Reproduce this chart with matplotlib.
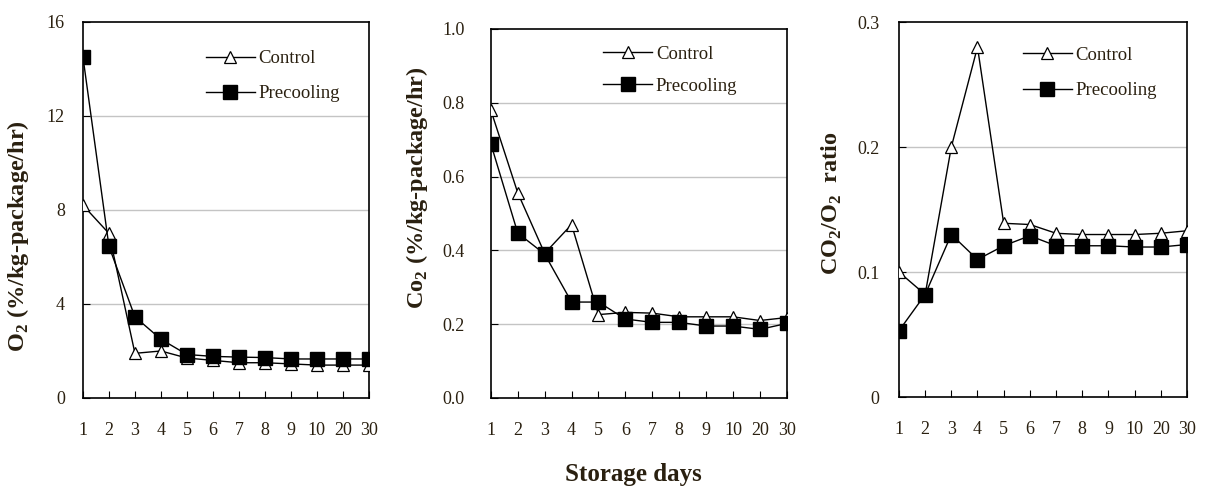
import numpy as np
import matplotlib
matplotlib.use("Agg")
import matplotlib.pyplot as plt

plt.rcParams['font.family'] = ['Liberation Serif', 'DejaVu Serif']
plt.rcParams['mathtext.fontset'] = 'custom'
plt.rcParams['mathtext.rm'] = 'Liberation Serif'
plt.rcParams['mathtext.bf'] = 'Liberation Serif:bold'

# dni przechowywania (kategorie na osi x)
days = ['1', '2', '3', '4', '5', '6', '7', '8', '9', '10', '20', '30']

# O2
o2_control = [8.2, 7.0, 1.9, 2.0, 1.7, 1.6, 1.5, 1.5, 1.45, 1.4, 1.4, 1.4]
o2_precool = [14.5, 6.45, 3.45, 2.5, 1.85, 1.77, 1.74, 1.72, 1.66, 1.66, 1.66, 1.66]

# CO2
co2_control = [0.78, 0.556, 0.392, 0.47, 0.226, 0.232, 0.23, 0.22, 0.22, 0.22, 0.21, 0.218]
co2_precool = [0.689, 0.447, 0.39, 0.26, 0.26, 0.214, 0.205, 0.205, 0.195, 0.195, 0.186, 0.202]

# CO2/O2
ratio_control = [0.10, 0.082, 0.20, 0.28, 0.139, 0.138, 0.131, 0.13, 0.13, 0.13, 0.131, 0.133]
ratio_precool = [0.053, 0.082, 0.13, 0.11, 0.121, 0.129, 0.121, 0.121, 0.121, 0.12, 0.12, 0.122]

txt_col = '#2a2010'
x = np.arange(len(days))

fig = plt.figure(figsize=(12.06, 4.93), dpi=100)

panele = [
    # dane, pozycja osi, yticks, etykiety, pad, etykieta osi, pozycja etykiety, legenda, odstep
    (o2_control, o2_precool, [0.0688, 0.1927, 0.237, 0.763], [0, 4, 8, 12, 16],
     ['0', '4', '8', '12', '16'], 13,
     r'O$_\mathbf{2}$ (%/kg-package/hr)', (-0.227, 0.43), (0.43, 0.925), 0.95),
    (co2_control, co2_precool, [0.407, 0.1927, 0.2454, 0.7485], [0.0, 0.2, 0.4, 0.6, 0.8, 1.0],
     ['0.0', '0.2', '0.4', '0.6', '0.8', '1.0'], 19,
     r'Co$_\mathbf{2}$ (%/kg-package/hr)', (-0.25, 0.57), (0.38, 0.955), 0.8),
    (ratio_control, ratio_precool, [0.7454, 0.1947, 0.2388, 0.7606], [0, 0.1, 0.2, 0.3],
     ['0', '0.1', '0.2', '0.3'], 14,
     r'CO$_\mathbf{2}$/O$_\mathbf{2}$  ratio', (-0.233, 0.516), (0.43, 0.935), 1.0),
]

for ctrl, pre, pos, yt, ytl, ypad, ylab, labpos, legpos, odstep in panele:
    ax = fig.add_axes(pos)
    ax.plot(x, ctrl, '-', color='black', lw=1.0, marker='^', ms=8,
            mfc='white', mec='black', mew=0.9, label='Control', zorder=3)
    ax.plot(x, pre, '-', color='black', lw=1.0, marker='s', ms=10.5,
            mfc='black', mec='black', label='Precooling', zorder=4)
    ax.set_xlim(0, 11)
    ax.set_ylim(yt[0], yt[-1])
    ax.set_xticks(x)
    ax.set_xticklabels(days)
    ax.set_yticks(yt)
    ax.set_yticklabels(ytl)
    for v in yt[1:-1]:
        ax.axhline(v, color='#c4c4c4', lw=1.0, zorder=1)
    ax.tick_params(axis='x', direction='in', length=5, pad=17, labelsize=13,
                   labelcolor=txt_col)
    ax.tick_params(axis='y', direction='in', length=5, pad=ypad, labelsize=13,
                   labelcolor=txt_col)
    for s in ax.spines.values():
        s.set_linewidth(1.2)
    ax.set_ylabel(ylab, fontsize=17.5, fontweight='bold', color=txt_col, va='center')
    ax.yaxis.set_label_coords(*labpos)
    ax.legend(loc='upper left', bbox_to_anchor=legpos, frameon=False, fontsize=13.5,
              handlelength=2.6, handletextpad=0.2, borderpad=0, borderaxespad=0,
              labelspacing=odstep, labelcolor=txt_col)

fig.text(0.525, 0.037, 'Storage days', ha='center', va='center', fontsize=18,
         fontweight='bold', color=txt_col)

plt.savefig('out.png', dpi=100)
